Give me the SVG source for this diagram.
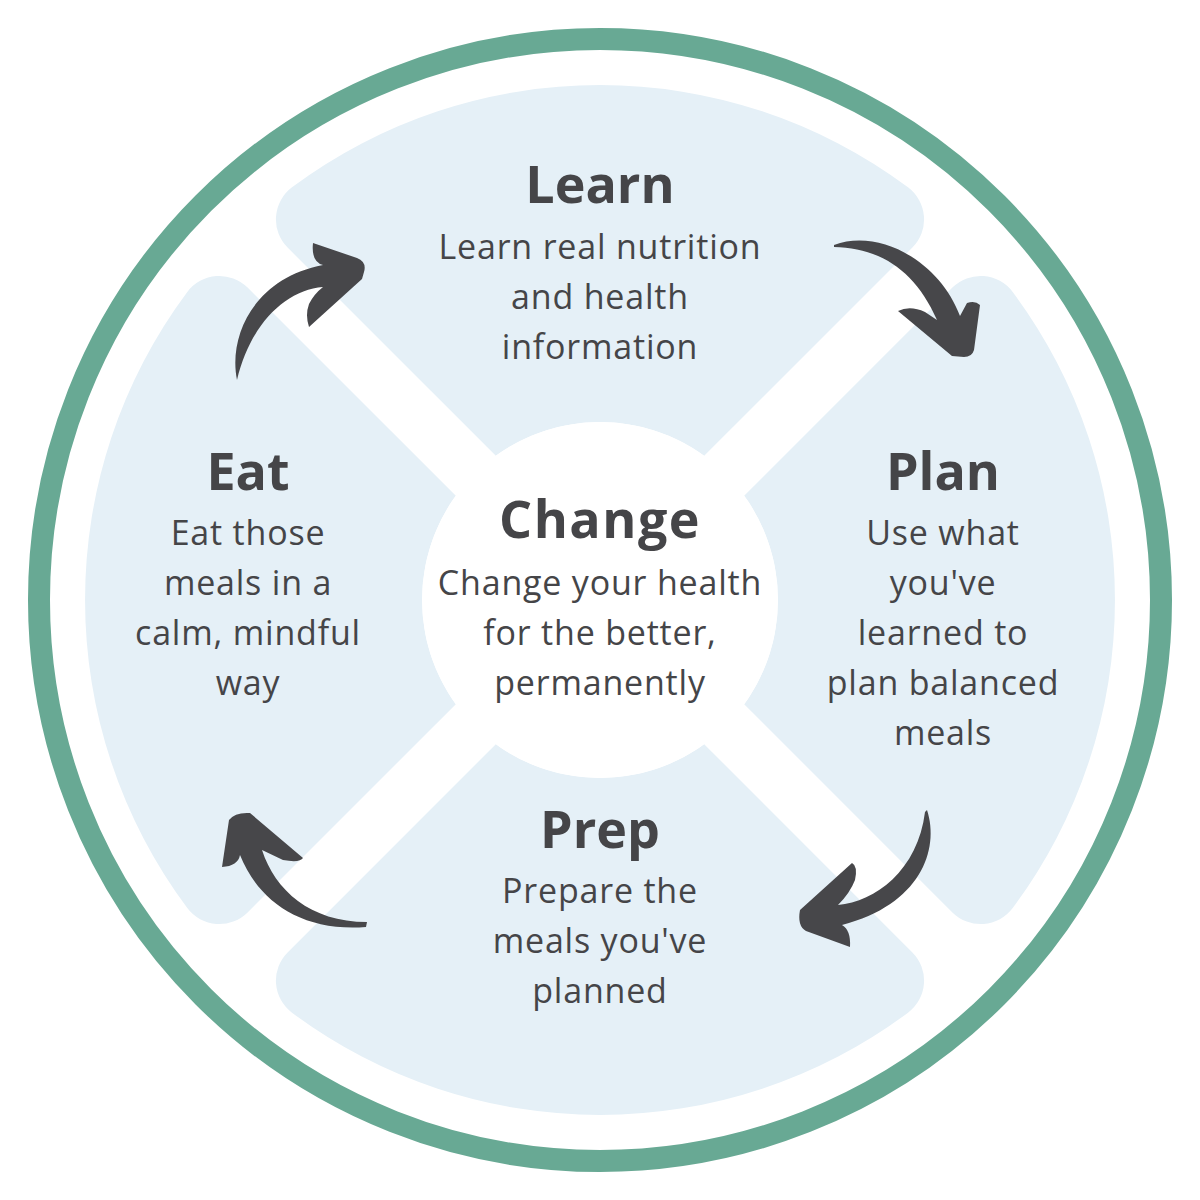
<svg xmlns="http://www.w3.org/2000/svg" width="1200" height="1200" viewBox="0 0 1200 1200">
<defs>
<style>
.petal{fill:#E5F0F7}
.ring{fill:none;stroke:#68A994;stroke-width:22}
.title{font-family:"Open Sans","Liberation Sans",sans-serif;font-weight:700;font-size:52px;fill:#454548;text-anchor:middle}
.body{font-family:"Open Sans","Liberation Sans",sans-serif;font-weight:400;font-size:34px;letter-spacing:0.8px;fill:#454548;text-anchor:middle}
.arrow{fill:#47474A}
</style>
<path id="petalShape" d="M495.8 455.8 L287.6 247.6 A40 40 0 0 1 292 187.3 A515 515 0 0 1 908 187.3 A40 40 0 0 1 912.4 247.6 L704.2 455.8 A178 178 0 0 0 495.8 455.8 Z"/>
</defs>
<rect width="1200" height="1200" fill="#FFFFFF"/>
<circle class="ring" cx="600" cy="600" r="561"/>
<g id="learn">
<use href="#petalShape" class="petal"/>
<text class="title" x="600" y="203">Learn</text>
<text class="body" x="600" y="259">Learn real nutrition</text>
<text class="body" x="600" y="309">and health</text>
<text class="body" x="600" y="359">information</text>
</g>
<g id="plan">
<use href="#petalShape" class="petal" transform="rotate(90 600 600)"/>
<text class="title" x="943" y="490">Plan</text>
<text class="body" x="943" y="545">Use what</text>
<text class="body" x="943" y="595">you've</text>
<text class="body" x="943" y="645">learned to</text>
<text class="body" x="943" y="695">plan balanced</text>
<text class="body" x="943" y="745">meals</text>
</g>
<g id="prep">
<use href="#petalShape" class="petal" transform="rotate(180 600 600)"/>
<text class="title" x="600" y="848">Prep</text>
<text class="body" x="600" y="903">Prepare the</text>
<text class="body" x="600" y="953">meals you've</text>
<text class="body" x="600" y="1003">planned</text>
</g>
<g id="eat">
<use href="#petalShape" class="petal" transform="rotate(270 600 600)"/>
<text class="title" x="248" y="490">Eat</text>
<text class="body" x="248" y="545">Eat those</text>
<text class="body" x="248" y="595">meals in a</text>
<text class="body" x="248" y="645">calm, mindful</text>
<text class="body" x="248" y="695">way</text>
</g>
<g id="change">
<circle cx="600" cy="600" r="178" fill="#FFFFFF"/>
<text class="title" x="600" y="538" letter-spacing="1.5">Change</text>
<text class="body" x="600" y="595">Change your health</text>
<text class="body" x="600" y="645">for the better,</text>
<text class="body" x="600" y="695">permanently</text>
</g>
<g id="connectors">
<path class="arrow" d="M313 243 L357 258 Q367 262 364 272 L362 279 L309 327 Q305 315 309 304 Q314 294 323 287 C285 290 250 325 237 380 C228 335 255 278 323 265 Q311 262 313 243 Z"/>
<path class="arrow" d="M834 245 C880 228 940 262 960 316 L967 303 Q975 300 980 305 L974 350 Q972 357 964 357 L952 356 L898 311 Q910 305 925 312 L937 320 C915 270 880 248 834 247 Z"/>
<path class="arrow" d="M927 810 C940 850 920 905 842 925 Q851 930 850 947 L806 931 Q797 926 800 910 L852 863 Q858 866 855 880 Q850 893 838 905 C875 902 918 870 925 812 Z"/>
<path class="arrow" d="M250 813 L303 858 Q300 863 283 860 L262 850 C275 890 310 922 367 922 L366 927 C300 932 258 900 240 855 Q238 866 222 867 L229 820 Q235 812 250 813 Z"/>
</g>
</svg>
